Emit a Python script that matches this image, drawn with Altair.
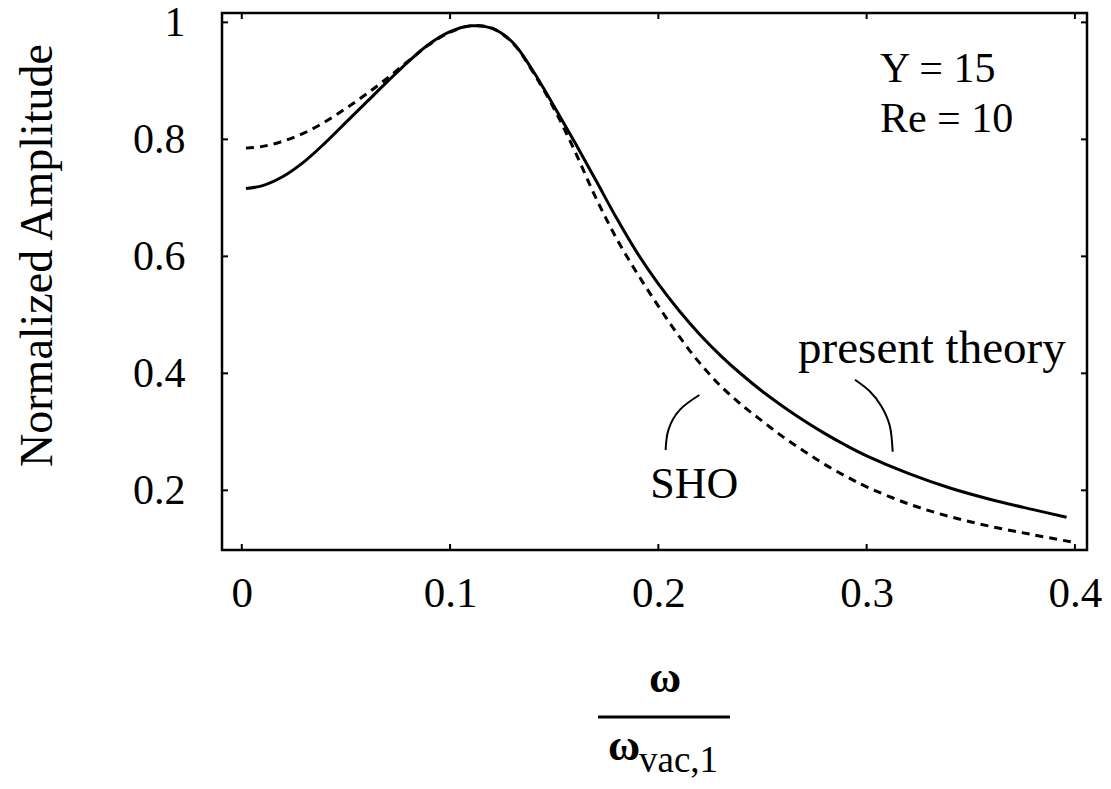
import altair as alt
import pandas as pd

# ---- data ----
omega_present = [0.002, 0.01, 0.02, 0.03, 0.04, 0.05, 0.06, 0.07, 0.08, 0.09, 0.10, 0.11,
                 0.12, 0.13, 0.14, 0.15, 0.16, 0.17, 0.18, 0.19, 0.20, 0.21, 0.22, 0.23,
                 0.24, 0.25, 0.26, 0.27, 0.28, 0.29, 0.30, 0.32, 0.34, 0.36, 0.38, 0.396]
amp_present = [0.716, 0.721, 0.737, 0.762, 0.794, 0.829, 0.864, 0.899, 0.933, 0.963, 0.984, 0.994,
               0.990, 0.966, 0.916, 0.856, 0.794, 0.730, 0.665, 0.605, 0.553, 0.507, 0.466, 0.430,
               0.398, 0.369, 0.343, 0.319, 0.297, 0.277, 0.259, 0.229, 0.204, 0.184, 0.167, 0.154]

omega_sho = [0.002, 0.01, 0.02, 0.03, 0.04, 0.05, 0.06, 0.07, 0.08, 0.09, 0.10, 0.11,
             0.12, 0.13, 0.14, 0.15, 0.16, 0.17, 0.18, 0.19, 0.20, 0.21, 0.22, 0.23,
             0.24, 0.25, 0.26, 0.27, 0.28, 0.29, 0.30, 0.32, 0.34, 0.36, 0.38, 0.398]
amp_sho = [0.785, 0.788, 0.797, 0.811, 0.830, 0.853, 0.878, 0.905, 0.934, 0.962, 0.983, 0.994,
           0.990, 0.965, 0.914, 0.852, 0.779, 0.700, 0.630, 0.570, 0.515, 0.463, 0.417, 0.378,
           0.346, 0.318, 0.291, 0.267, 0.244, 0.224, 0.206, 0.177, 0.155, 0.138, 0.124, 0.112]

# pointer arcs (data coordinates)
arc_present_x = [0.2944, 0.3016, 0.3072, 0.3112, 0.3125]
arc_present_y = [0.389, 0.369, 0.343, 0.309, 0.266]
arc_sho_x = [0.2197, 0.2104, 0.2048, 0.2035]
arc_sho_y = [0.363, 0.338, 0.303, 0.269]

# annotations
labels_text = ["present theory", "SHO", "Y = 15", "Re = 10"]
labels_x = [0.2671, 0.1961, 0.3064, 0.3064]
labels_y = [0.418, 0.187, 0.898, 0.813]
labels_size = [47, 44, 42, 42]

x_ticks = [0, 0.1, 0.2, 0.3, 0.4]
y_ticks = [0.2, 0.4, 0.6, 0.8, 1.0]

W, H = 865, 537
FONT = "Liberation Serif"
xs = alt.Scale(domain=[-0.0095, 0.4058], nice=False, zero=False)
ys = alt.Scale(domain=[0.098, 1.016], nice=False, zero=False)

present_df = pd.DataFrame({"w": omega_present, "a": amp_present})
sho_df = pd.DataFrame({"w": omega_sho, "a": amp_sho})

x_axis = alt.Axis(values=x_ticks, labelExpr="datum.value == 0 ? '0' : format(datum.value, '.1f')",
                  ticks=False, grid=False, domain=False, labelFont=FONT, labelFontSize=43,
                  labelColor="black", labelPadding=22, title=None, labelFlush=False)
y_axis = alt.Axis(values=y_ticks, labelExpr="datum.value == 1 ? '1' : format(datum.value, '.1f')",
                  ticks=False, grid=False, domain=False, labelFont=FONT, labelFontSize=42,
                  labelColor="black", labelPadding=37, labelFlush=False,
                  title="Normalized Amplitude", titleFont=FONT, titleFontSize=46,
                  titleFontWeight="normal", titleColor="black", titleAngle=270,
                  titleX=-185, titleY=242, titleAlign="center", titleBaseline="middle")

present = alt.Chart(present_df).mark_line(color="black", strokeWidth=3,
                                          interpolate="catmull-rom").encode(
    x=alt.X("w:Q", scale=xs, axis=x_axis),
    y=alt.Y("a:Q", scale=ys, axis=y_axis),
)
sho = alt.Chart(sho_df).mark_line(color="black", strokeWidth=3, strokeDash=[8, 6],
                                  interpolate="catmull-rom").encode(
    x=alt.X("w:Q", scale=xs), y=alt.Y("a:Q", scale=ys))

arc1 = alt.Chart(pd.DataFrame({"w": arc_present_x, "a": arc_present_y})).mark_line(
    color="black", strokeWidth=2, interpolate="natural").encode(
    x=alt.X("w:Q", scale=xs), y=alt.Y("a:Q", scale=ys))
arc2 = alt.Chart(pd.DataFrame({"w": arc_sho_x, "a": arc_sho_y})).mark_line(
    color="black", strokeWidth=2, interpolate="natural").encode(
    x=alt.X("w:Q", scale=xs), y=alt.Y("a:Q", scale=ys))

lab_df = pd.DataFrame({"t": labels_text, "w": labels_x, "a": labels_y, "s": labels_size})
labels = alt.Chart(lab_df).mark_text(font=FONT, align="left", baseline="alphabetic",
                                     color="black").encode(
    x=alt.X("w:Q", scale=xs), y=alt.Y("a:Q", scale=ys), text="t:N",
    size=alt.Size("s:Q", scale=None, legend=None))

# inward tick marks on all four sides
xt_df = pd.DataFrame({"w": x_ticks})
yt_df = pd.DataFrame({"a": y_ticks})
tick_b = alt.Chart(xt_df).mark_rule(color="black", strokeWidth=2).encode(
    x=alt.X("w:Q", scale=xs), y=alt.value(H), y2=alt.value(H - 6))
tick_t = alt.Chart(xt_df).mark_rule(color="black", strokeWidth=2).encode(
    x=alt.X("w:Q", scale=xs), y=alt.value(0), y2=alt.value(6))
tick_l = alt.Chart(yt_df).mark_rule(color="black", strokeWidth=2).encode(
    y=alt.Y("a:Q", scale=ys), x=alt.value(0), x2=alt.value(6))
tick_r = alt.Chart(yt_df).mark_rule(color="black", strokeWidth=2).encode(
    y=alt.Y("a:Q", scale=ys), x=alt.value(W - 6), x2=alt.value(W))

# x-axis title as a fraction: omega / omega_vac,1
one = pd.DataFrame({"k": [0]})
num = alt.Chart(one).mark_text(font=FONT, fontSize=44, fontWeight="bold", align="center",
                               baseline="alphabetic", color="black").encode(
    x=alt.value(443), y=alt.value(679), text=alt.value("ω"))
bar = alt.Chart(one).mark_rule(color="black", strokeWidth=3).encode(
    x=alt.value(376), x2=alt.value(508), y=alt.value(704))
den = alt.Chart(one).mark_text(font=FONT, fontSize=44, fontWeight="bold", align="left",
                               baseline="alphabetic", color="black").encode(
    x=alt.value(386), y=alt.value(747), text=alt.value("ω"))
sub = alt.Chart(one).mark_text(font=FONT, fontSize=37, align="left", baseline="alphabetic",
                               color="black").encode(
    x=alt.value(417), y=alt.value(759), text=alt.value("vac,1"))

chart = alt.layer(present, sho, arc1, arc2, labels, tick_b, tick_t, tick_l, tick_r,
                  num, bar, den, sub).properties(
    width=W, height=H,
    background="white",
    autosize=alt.AutoSizeParams(type="none"),
    padding={"left": 214, "top": 5, "right": 16, "bottom": 231},
).configure_view(stroke="black", strokeWidth=2.5)

chart.save("out.html", embed_options={"renderer": "svg", "actions": False})
